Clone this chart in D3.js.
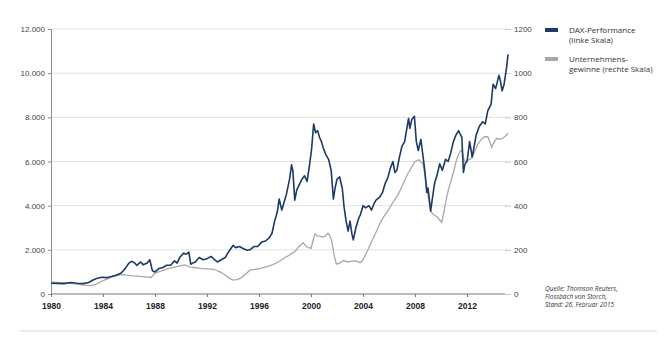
<!DOCTYPE html>
<html>
<head>
<meta charset="utf-8">
<script src="https://cdn.jsdelivr.net/npm/d3@7/dist/d3.min.js"></script>
<style>
    body { margin: 0; background: #fff; }
    svg { display: block; font-family: "Open Sans", sans-serif; }
</style>
</head>
<body>
<div class="chart"></div>
<script>
// DAX (left scale), decimal year / index value
const daxYears = [1980.0, 1980.5, 1981.0, 1981.5, 1982.0, 1982.5, 1982.9, 1983.2, 1983.5, 1983.9,
    1984.3, 1984.7, 1985.0, 1985.4, 1985.7, 1986.0, 1986.2, 1986.4, 1986.6, 1986.9,
    1987.1, 1987.4, 1987.6, 1987.8, 1988.0, 1988.3, 1988.6, 1988.9, 1989.2, 1989.5,
    1989.7, 1989.9, 1990.2, 1990.4, 1990.6, 1990.75, 1990.9, 1991.1, 1991.4, 1991.7,
    1992.0, 1992.3, 1992.6, 1992.8, 1993.1, 1993.4, 1993.7, 1994.0, 1994.2, 1994.5,
    1994.8, 1995.1, 1995.3, 1995.6, 1995.9, 1996.2, 1996.5, 1996.8, 1997.0, 1997.2,
    1997.4, 1997.55, 1997.75, 1997.9, 1998.1, 1998.35, 1998.5, 1998.6, 1998.75, 1998.9,
    1999.1, 1999.3, 1999.5, 1999.7, 1999.9, 2000.05, 2000.2, 2000.35, 2000.5, 2000.65,
    2000.8, 2000.95, 2001.15, 2001.35, 2001.55, 2001.72, 2001.85, 2002.0, 2002.2, 2002.4,
    2002.55, 2002.7, 2002.85, 2003.0, 2003.15, 2003.25, 2003.45, 2003.65, 2003.8, 2004.0,
    2004.2, 2004.45, 2004.65, 2004.85, 2005.0, 2005.3, 2005.5, 2005.7, 2005.9, 2006.1,
    2006.3, 2006.45, 2006.6, 2006.8, 2007.0, 2007.2, 2007.4, 2007.5, 2007.6, 2007.75,
    2007.95, 2008.1, 2008.25, 2008.45, 2008.6, 2008.75, 2008.9, 2009.0, 2009.2, 2009.35,
    2009.5, 2009.7, 2009.9, 2010.1, 2010.35, 2010.55, 2010.75, 2010.95, 2011.15, 2011.35,
    2011.5, 2011.6, 2011.72, 2011.85, 2012.0, 2012.2, 2012.4, 2012.55, 2012.7, 2012.95,
    2013.2, 2013.4, 2013.6, 2013.85, 2014.0, 2014.2, 2014.45, 2014.55, 2014.7, 2014.85,
    2014.95, 2015.05, 2015.15];
const daxValues = [490, 480, 470, 520, 490, 470, 520, 620, 700, 760,
    740, 800, 850, 950, 1150, 1400, 1480, 1420, 1300, 1450,
    1320, 1400, 1550, 1050, 1000, 1150, 1200, 1300, 1300, 1500,
    1400, 1650, 1850, 1800, 1900, 1350, 1400, 1450, 1650, 1550,
    1600, 1700, 1550, 1450, 1550, 1650, 1950, 2200, 2100, 2150,
    2050, 1980, 2000, 2150, 2150, 2350, 2400, 2550, 2750, 3300,
    3700, 4300, 3800, 4100, 4500, 5200, 5850, 5600, 4250, 4700,
    4950, 5200, 5350, 5100, 5900, 6600, 7700, 7300, 7400, 7100,
    6900, 6600, 6300, 6100, 5600, 4300, 4800, 5200, 5300, 4800,
    3900, 3300, 2850, 3300, 2700, 2450, 3000, 3400, 3600, 4000,
    3900, 4000, 3800, 4100, 4250, 4400, 4600, 5000, 5250, 5700,
    6000, 5500, 5600, 6200, 6700, 6900, 7600, 7950, 7500, 7900,
    8050, 6900, 6500, 7000, 6300, 5600, 4600, 4800, 3750, 4400,
    5000, 5400, 5900, 5600, 6100, 6000, 6400, 6900, 7200, 7400,
    7200, 7100, 5500, 5900, 6000, 6900, 6200, 6700, 7200, 7600,
    7800, 7700, 8300, 8600, 9500, 9300, 9900, 9700, 9200, 9500,
    9900, 10300, 10850];

// Unternehmensgewinne (right scale)
const gewinnYears = [1980.0, 1980.5, 1981.0, 1981.5, 1982.0, 1982.5, 1983.0, 1983.4, 1983.8, 1984.2,
    1984.6, 1985.0, 1985.4, 1985.8, 1986.3, 1986.8, 1987.3, 1987.7, 1988.0, 1988.5,
    1989.0, 1989.5, 1990.0, 1990.3, 1990.7, 1991.0, 1991.5, 1992.0, 1992.5, 1993.0,
    1993.4, 1993.7, 1994.0, 1994.3, 1994.6, 1995.0, 1995.3, 1995.7, 1996.1, 1996.5,
    1997.0, 1997.5, 1997.9, 1998.3, 1998.8, 1999.15, 1999.4, 1999.65, 2000.0, 2000.15,
    2000.3, 2000.5, 2000.7, 2000.9, 2001.1, 2001.3, 2001.45, 2001.6, 2001.8, 2001.95,
    2002.2, 2002.5, 2002.8, 2003.0, 2003.4, 2003.8, 2004.0, 2004.3, 2004.6, 2005.0,
    2005.3, 2005.6, 2006.0, 2006.3, 2006.7, 2007.1, 2007.4, 2007.75, 2008.0, 2008.3,
    2008.6, 2008.85, 2009.0, 2009.2, 2009.4, 2009.7, 2009.9, 2010.05, 2010.25, 2010.45,
    2010.7, 2010.95, 2011.2, 2011.45, 2011.6, 2011.8, 2012.0, 2012.3, 2012.55, 2012.85,
    2013.1, 2013.35, 2013.6, 2013.9, 2014.1, 2014.3, 2014.6, 2014.9, 2015.15];
const gewinnValues = [55, 52, 50, 48, 45, 40, 38, 42, 55, 65,
    75, 82, 88, 85, 82, 80, 78, 75, 95, 105,
    115, 122, 128, 132, 122, 120, 116, 114, 112, 100,
    86, 72, 63, 65, 72, 92, 108, 112, 116, 122,
    132, 145, 162, 175, 195, 220, 232, 214, 207, 240,
    272, 262, 262, 258, 262, 275, 265, 238, 170, 135,
    140, 152, 145, 148, 150, 142, 155, 190, 230, 280,
    320, 350, 385, 415, 450, 500, 540, 576, 600, 608,
    590, 510, 445, 375, 360, 350, 335, 325, 380, 445,
    500, 550, 610, 645, 652, 600, 605, 612, 640, 680,
    700, 712, 712, 665, 690, 705, 700, 712, 728];

const xTicks = [1980, 1984, 1988, 1992, 1996, 2000, 2004, 2008, 2012];
const leftTicks = [0, 2000, 4000, 6000, 8000, 10000, 12000];
const rightTicks = [0, 200, 400, 600, 800, 1000, 1200];

const legendLabels = [["DAX-Performance", "(linke Skala)"], ["Unternehmens-", "gewinne (rechte Skala)"]];
const sourceLines = ["Quelle: Thomson Reuters,", "Flossbach von Storch,", "Stand: 26. Februar 2015"];

const DARK = "#1c3a63", GREY = "#a8a8a8";

renderChart();

function renderChart() {
    let svg = d3.select(".chart").append("svg").attr("width", 670).attr("height", 344);

    let x = d3.scaleLinear().domain([1980, 2015.15]).range([51, 508]);
    let yLeft = d3.scaleLinear().domain([0, 12000]).range([294, 29]);
    let yRight = d3.scaleLinear().domain([0, 1200]).range([294, 29]);

    // gridlines
    svg.append("g")
        .selectAll("line")
        .data(leftTicks.filter(d => d > 0))
        .enter().append("line")
        .attr("x1", 51).attr("x2", 507)
        .attr("y1", d => yLeft(d)).attr("y2", d => yLeft(d))
        .attr("stroke", "#e2e2e2").attr("stroke-width", 1);

    // left axis
    let fmt = d3.format(",");
    let axisL = svg.append("g")
        .attr("transform", "translate(51,0)")
        .call(d3.axisLeft(yLeft).tickValues(leftTicks).tickSize(3).tickPadding(3)
            .tickFormat(d => fmt(d).replace(/,/g, ".")));
    axisL.select(".domain").attr("stroke", "#8a8a8a");
    axisL.selectAll(".tick line").attr("stroke", "#8a8a8a");
    axisL.selectAll("text").attr("font-size", "8px").attr("fill", "#444");

    // right axis
    let axisR = svg.append("g")
        .attr("transform", "translate(505,0)")
        .call(d3.axisRight(yRight).tickValues(rightTicks).tickSize(6).tickPadding(3)
            .tickFormat(d3.format("d")));
    axisR.select(".domain").remove();
    axisR.selectAll(".tick line").attr("stroke", "#c8c8c8");
    axisR.selectAll("text").attr("font-size", "8px").attr("fill", "#444");

    // bottom axis
    let axisB = svg.append("g")
        .attr("transform", "translate(0,294)")
        .call(d3.axisBottom(x).tickValues(xTicks).tickSize(3).tickPadding(6).tickFormat(d3.format("d")));
    axisB.select(".domain").attr("stroke", "#777").attr("d", "M51,0H505");
    axisB.selectAll(".tick line").attr("stroke", "#777");
    axisB.selectAll("text").attr("font-size", "8.5px").attr("font-weight", "600").attr("fill", "#222");

    // lines
    let gewinnData = gewinnYears.map((d, i) => [d, gewinnValues[i]]);
    let daxData = daxYears.map((d, i) => [d, daxValues[i]]);

    svg.append("path")
        .datum(gewinnData)
        .attr("fill", "none").attr("stroke", GREY).attr("stroke-width", 1.3)
        .attr("d", d3.line().x(d => x(d[0])).y(d => yRight(d[1])));

    svg.append("path")
        .datum(daxData)
        .attr("fill", "none").attr("stroke", DARK).attr("stroke-width", 1.6)
        .attr("stroke-linejoin", "round")
        .attr("d", d3.line().x(d => x(d[0])).y(d => yLeft(d[1])));

    // legend
    let legend = svg.append("g").attr("transform", "translate(545,0)");
    let legendY = [28, 57];
    [DARK, GREY].forEach(function (c, i) {
        legend.append("rect").attr("x", 0).attr("y", legendY[i]).attr("width", 13).attr("height", 4).attr("fill", c);
        legend.append("text")
            .attr("x", 24).attr("y", legendY[i] + 5)
            .attr("font-size", "8px").attr("fill", "#333")
            .selectAll("tspan")
            .data(legendLabels[i])
            .enter().append("tspan")
            .attr("x", 24).attr("dy", (d, j) => j === 0 ? 0 : 10)
            .text(d => d);
    });

    // source note
    svg.append("text")
        .attr("x", 545).attr("y", 291)
        .attr("font-size", "6.5px").attr("font-style", "italic").attr("fill", "#333")
        .selectAll("tspan")
        .data(sourceLines)
        .enter().append("tspan")
        .attr("x", 545).attr("dy", (d, j) => j === 0 ? 0 : 7.8)
        .text(d => d);

    // bottom rule
    svg.append("line")
        .attr("x1", 20).attr("x2", 657).attr("y1", 331).attr("y2", 331)
        .attr("stroke", "#d5d5d5").attr("stroke-width", 1);
}
</script>
</body>
</html>
